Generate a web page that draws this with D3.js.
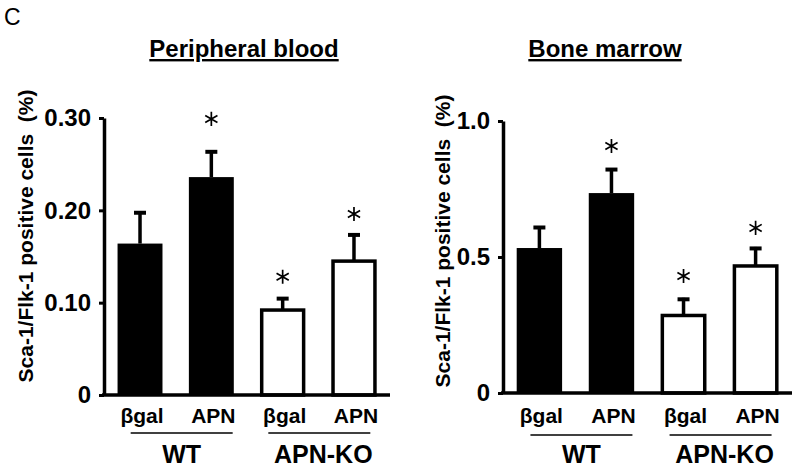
<!DOCTYPE html>
<html>
<head>
<meta charset="utf-8">
<script src="https://cdn.jsdelivr.net/npm/d3@7"></script>
<style>
  body { margin: 0; background: #fff; }
  svg { display: block; }
  text { font-family: "Liberation Sans", Arial, sans-serif; }
</style>
</head>
<body>
<div id="chart"></div>
<script>
// --- Data ---
const categories = ["βgal", "APN", "βgal ", "APN "];
const groups = ["WT", "APN-KO"];
const filled = [true, true, false, false];

const bloodMean = [0.164, 0.236, 0.092, 0.145];
const bloodErr = [0.035, 0.029, 0.014, 0.030];
const bloodStar = [null, 0.299, 0.128, 0.196];
const bloodTicks = [0, 0.10, 0.20, 0.30];
const bloodTickLabels = ["0", "0.10", "0.20", "0.30"];

const marrowMean = [0.533, 0.735, 0.285, 0.467];
const marrowErr = [0.081, 0.092, 0.065, 0.070];
const marrowStar = [null, 0.908, 0.430, 0.607];
const marrowTicks = [0, 0.5, 1.0];
const marrowTickLabels = ["0", "0.5", "1.0"];

const yLabel = "Sca-1/Flk-1 positive cells  (%)";

// --- Setup ---
const W = 800, H = 474;
const svg = d3.select("#chart").append("svg")
    .attr("width", W)
    .attr("height", H);

svg.append("text")
    .attr("x", 4)
    .attr("y", 25)
    .style("font-size", "23px")
    .text("C");

const star = d3.symbol(d3.symbolAsterisk, 140);

function drawPanel(opts) {
    const g = svg.append("g");

    const y = d3.scaleLinear()
        .domain(opts.domain)
        .range([opts.y0, opts.y1]);

    const x = d3.scaleBand()
        .domain(categories)
        .range([opts.x0, opts.x1])
        .paddingInner(0.37)
        .paddingOuter(0.19);

    const bw = x.bandwidth();

    // title
    g.append("text")
        .attr("x", opts.titleX)
        .attr("y", 57)
        .attr("text-anchor", "middle")
        .style("font-size", "24px")
        .style("font-weight", "bold")
        .attr("text-decoration", "underline")
        .text(opts.title);

    // bars
    g.selectAll(".bar")
        .data(opts.mean)
        .enter()
        .append("rect")
            .attr("class", "bar")
            .attr("x", (d, i) => x(categories[i]) + (filled[i] ? 0 : 1.5))
            .attr("width", (d, i) => bw - (filled[i] ? 0 : 3))
            .attr("y", d => y(d))
            .attr("height", d => y(0) - y(d))
            .attr("fill", (d, i) => filled[i] ? "#000" : "#fff")
            .attr("stroke", "#000")
            .attr("stroke-width", (d, i) => filled[i] ? 0 : 3.5);

    // error bars (upper only) and asterisks
    opts.mean.forEach((m, i) => {
        const cx = x(categories[i]) + bw / 2;
        g.append("line")
            .attr("x1", cx).attr("x2", cx)
            .attr("y1", y(m))
            .attr("y2", y(m + opts.err[i]))
            .attr("stroke", "#000")
            .attr("stroke-width", 3.5);
        g.append("line")
            .attr("x1", cx - 6).attr("x2", cx + 6)
            .attr("y1", y(m + opts.err[i]) + 1.5)
            .attr("y2", y(m + opts.err[i]) + 1.5)
            .attr("stroke", "#000")
            .attr("stroke-width", 4);
        if (opts.star[i] !== null) {
            g.append("path")
                .attr("d", star())
                .attr("transform", `translate(${cx}, ${y(opts.star[i])})`)
                .attr("fill", "none")
                .attr("stroke", "#000")
                .attr("stroke-width", 1.7);
        }
    });

    // axes
    const yAxis = g.append("g")
        .attr("transform", `translate(${opts.x0}, 0)`)
        .call(d3.axisLeft(y)
            .tickValues(opts.ticks)
            .tickFormat((d, i) => opts.tickLabels[i])
            .tickSize(5)
            .tickPadding(8)
            .tickSizeOuter(0));
    yAxis.attr("font-size", null).attr("font-family", null);
    yAxis.select(".domain").attr("stroke-width", 3.5);
    yAxis.selectAll(".tick line").attr("stroke-width", 3);
    yAxis.selectAll(".tick text")
        .style("font-size", "24px")
        .style("font-weight", "bold");

    g.append("line")
        .attr("x1", opts.x0 - 2)
        .attr("x2", opts.x1)
        .attr("y1", y(0))
        .attr("y2", y(0))
        .attr("stroke", "#000")
        .attr("stroke-width", 3.5);

    // category labels
    g.selectAll(".cat")
        .data(categories)
        .enter()
        .append("text")
            .attr("class", "cat")
            .attr("x", d => x(d) + bw / 2 + 2)
            .attr("y", 423)
            .attr("text-anchor", "middle")
            .style("font-size", "21px")
            .style("font-weight", "bold")
            .text(d => d.trim());

    // group labels & underline
    groups.forEach((grp, k) => {
        const a = x(categories[2 * k]) + bw / 2;
        const b = x(categories[2 * k + 1]) + bw / 2;
        const c = (a + b) / 2 + (k === 0 ? 6 : 1);
        g.append("line")
            .attr("x1", c - 51).attr("x2", c + 51)
            .attr("y1", opts.lineY).attr("y2", opts.lineY)
            .attr("stroke", "#000")
            .attr("stroke-width", 1.5);
        g.append("text")
            .attr("x", c + (k === 0 ? 0 : 4))
            .attr("y", 463)
            .attr("text-anchor", "middle")
            .style("font-size", "25px")
            .style("font-weight", "bold")
            .text(grp);
    });

    // y label
    g.append("text")
        .attr("transform", `translate(${opts.labelX}, ${opts.labelY}) rotate(-90)`)
        .attr("text-anchor", "middle")
        .style("font-size", "21px")
        .style("font-weight", "bold")
        .style("white-space", "pre")
        .text(yLabel);
}

drawPanel({
    title: "Peripheral blood", titleX: 244,
    domain: [0, 0.30], y0: 395, y1: 118,
    x0: 104, x1: 390,
    mean: bloodMean, err: bloodErr, star: bloodStar,
    ticks: bloodTicks, tickLabels: bloodTickLabels,
    lineY: 433, labelX: 33, labelY: 236
});

drawPanel({
    title: "Bone marrow", titleX: 605,
    domain: [0, 1.0], y0: 393, y1: 121,
    x0: 503, x1: 792,
    mean: marrowMean, err: marrowErr, star: marrowStar,
    ticks: marrowTicks, tickLabels: marrowTickLabels,
    lineY: 435, labelX: 450, labelY: 241
});
</script>
</body>
</html>
